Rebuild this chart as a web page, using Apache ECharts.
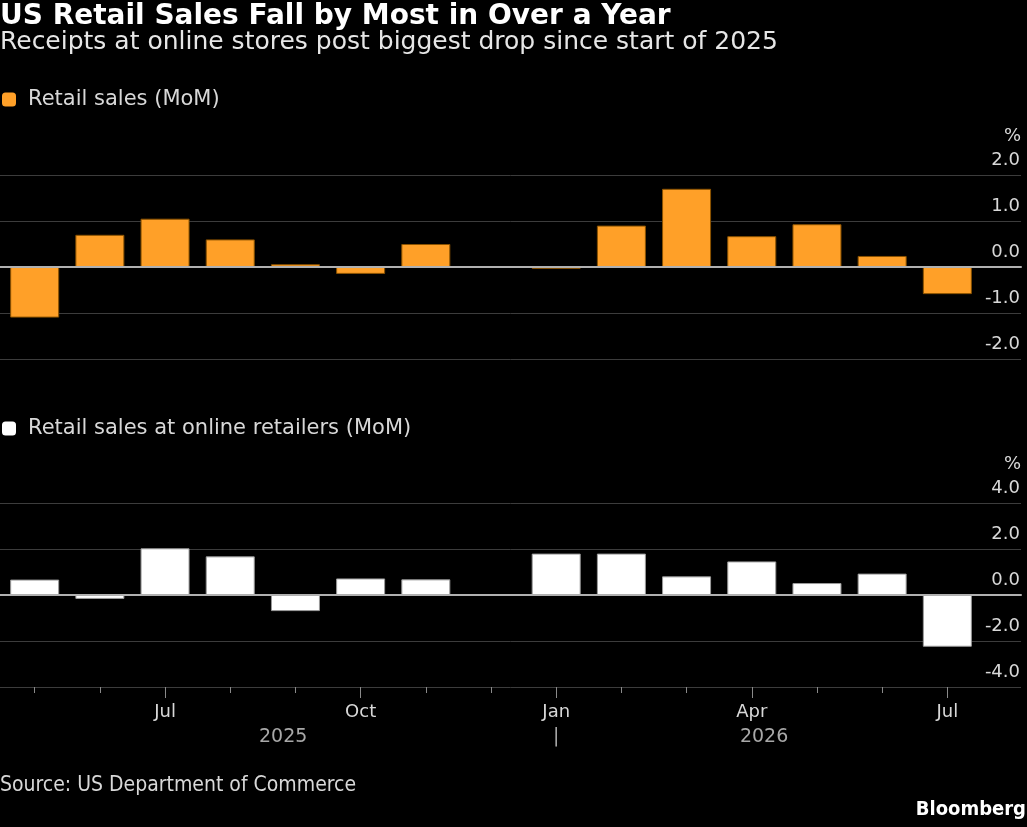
<!DOCTYPE html>
<html><head><meta charset="utf-8">
<script src="https://cdn.jsdelivr.net/npm/echarts@6/dist/echarts.min.js"></script>
<style>html,body{margin:0;padding:0;background:#000;}#c{width:1027px;height:827px;}</style>
</head><body><div id="c"></div>
<script>
// ---- data ----
const months = ['May','Jun','Jul','Aug','Sep','Oct','Nov','Dec','Jan','Feb','Mar','Apr','May','Jun','Jul'];
const retailSales = [-1.1, 0.7, 1.05, 0.6, 0.06, -0.15, 0.5, null, -0.04, 0.9, 1.7, 0.67, 0.93, 0.24, -0.59];
const onlineSales = [0.67, -0.17, 2.03, 1.68, -0.7, 0.72, 0.68, null, 1.8, 1.8, 0.81, 1.46, 0.52, 0.93, -2.25];
const labeledMonthIdx = [2, 5, 8, 11, 14];
const years = ['2025', '2026'];
const yearBreakIdx = 8;
const seriesNames = ['Retail sales (MoM)', 'Retail sales at online retailers (MoM)'];

// ---- layout ----
const FF = 'DejaVu Sans';
const xMin = -0.532, xMax = 15.13;
const halfBar = 0.377;
const pos2025 = ((0 - halfBar) + yearBreakIdx) / 2;
const pos2026 = (yearBreakIdx + (months.length - 1 + halfBar)) / 2;
const yearLabels = [[pos2025, years[0]], [yearBreakIdx, '|'], [pos2026, years[1]]];
const gridColor = '#3c3c3c';
const fmt = v => v.toFixed(1);

function zeroAxis(gi) {
  return {type:'value', gridIndex:gi, min:xMin, max:xMax, z:5,
    axisLine:{show:true, onZero:true, lineStyle:{color:'#b0b0b0', width:2}},
    axisTick:{show:false}, axisLabel:{show:false}, splitLine:{show:false}};
}
function yAxis(gi, mn, mx, iv) {
  return {type:'value', gridIndex:gi, position:'right', min:mn, max:mx, interval:iv,
    axisLine:{show:false, onZero:false}, axisTick:{show:false},
    splitLine:{show:true, lineStyle:{color:gridColor, width:1}},
    axisLabel:{inside:true, margin:1, verticalAlign:'bottom', padding:[0,0,6,0],
      color:'#d8d8d8', fontSize:18, fontFamily:FF, formatter:fmt},
    name:'%', nameLocation:'end', nameGap:30, nameMoveOverlap:false,
    nameTextStyle:{align:'right', color:'#d8d8d8', fontSize:18, fontFamily:FF}};
}

const option = {
  backgroundColor:'#000',
  animation:false,
  title:[
    {text:'US Retail Sales Fall by Most in Over a Year', left:0, top:3, padding:0,
      textStyle:{color:'#fff', fontSize:28, fontWeight:'bold', fontFamily:FF}},
    {text:'Receipts at online stores post biggest drop since start of 2025', left:0, top:30, padding:0,
      textStyle:{color:'#e6e6e6', fontSize:25, fontWeight:'normal', fontFamily:FF}},
    {text:'Source: US Department of Commerce', left:0, top:775, padding:0,
      textStyle:{color:'#d8d8d8', fontSize:21, fontWeight:'normal', fontFamily:'DejaVu Sans Condensed'}},
    {text:'Bloomberg', right:1, top:800, padding:0,
      textStyle:{color:'#fff', fontSize:20, fontWeight:'bold', fontFamily:'DejaVu Sans Condensed'}}
  ],
  legend:[
    {data:[seriesNames[0]], left:2, top:89, padding:0, itemWidth:14, itemHeight:14, icon:'roundRect',
      itemStyle:{borderWidth:0}, selectedMode:false,
      textStyle:{color:'#d8d8d8', fontSize:21, fontFamily:FF, padding:[0,0,0,7]}},
    {data:[seriesNames[1]], left:2, top:418, padding:0, itemWidth:14, itemHeight:14, icon:'roundRect',
      itemStyle:{borderWidth:0}, selectedMode:false,
      textStyle:{color:'#d8d8d8', fontSize:21, fontFamily:FF, padding:[0,0,0,7]}}
  ],
  grid:[
    {left:0, right:6, top:175, height:184},
    {left:0, right:6, top:503, height:184}
  ],
  xAxis:[
    zeroAxis(0),
    zeroAxis(1),
    {type:'value', gridIndex:1, position:'bottom', min:xMin, max:xMax,
      axisLine:{show:false, onZero:false}, splitLine:{show:false},
      axisTick:{show:true, customValues:months.map((m,i)=>i), length:6, lineStyle:{color:'#8a8a8a'}},
      axisLabel:{show:true, customValues:labeledMonthIdx, margin:16, color:'#d8d8d8', fontSize:18, fontFamily:FF,
        formatter:v=>months[Math.round(v)]}},
    {type:'value', gridIndex:1, position:'bottom', min:xMin, max:xMax,
      axisLine:{show:false, onZero:false}, splitLine:{show:false},
      axisTick:{show:true, customValues:labeledMonthIdx, length:11, lineStyle:{color:'#8a8a8a'}},
      axisLabel:{show:false}},
    {type:'value', gridIndex:1, position:'bottom', min:xMin, max:xMax,
      axisLine:{show:false, onZero:false}, splitLine:{show:false}, axisTick:{show:false},
      axisLabel:{show:true, customValues:yearLabels.map(d=>d[0]), margin:41, color:'#a8a8a8', fontSize:19, fontFamily:FF,
        formatter:v=>{const f=yearLabels.find(d=>Math.abs(d[0]-v)<1e-6); return f?f[1]:'';}}}
  ],
  yAxis:[
    yAxis(0, -2, 2, 1),
    yAxis(1, -4, 4, 2)
  ],
  series:[
    {type:'bar', name:seriesNames[0], xAxisIndex:0, yAxisIndex:0, barWidth:49,
      data:retailSales.map((v,i)=>[i,v]),
      itemStyle:{color:'#FFA028', borderColor:'#8a5200', borderWidth:1}},
    {type:'bar', name:seriesNames[1], xAxisIndex:1, yAxisIndex:1, barWidth:49,
      data:onlineSales.map((v,i)=>[i,v]),
      itemStyle:{color:'#ffffff', borderColor:'#9a9a9a', borderWidth:1}}
  ]
};
const chart = echarts.init(document.getElementById('c'));
chart.setOption(option);
</script></body></html>
